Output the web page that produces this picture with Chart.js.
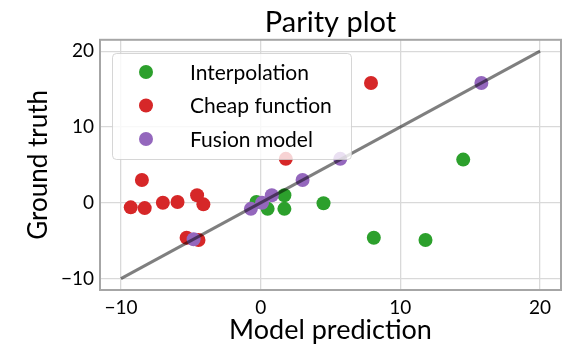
<!DOCTYPE html>
<html>
<head>
<meta charset="utf-8">
<script src="https://cdn.jsdelivr.net/npm/chart.js@4.4.1/dist/chart.umd.min.js"></script>
<style>
  body { margin: 0; background: #fff; }
</style>
</head>
<body>
<canvas id="myChart" width="577" height="346"></canvas>
<script>
// values
const interpX = [-0.3, 0.5, 1.7, 1.7, 4.5, 8.1, 11.8, 14.5];
const interpY = [0.1, -0.8, 1.0, -0.8, -0.05, -4.6, -4.9, 5.7];

const cheapX = [-9.3, -8.5, -8.3, -7.0, -5.95, -5.3, -4.55, -4.45, -4.1, 1.8, 7.9];
const cheapY = [-0.6, 3.0, -0.7, 0.0, 0.1, -4.6, 1.0, -4.9, -0.2, 5.8, 15.8];

const fusionX = [-4.8, -0.7, 0.1, 0.8, 3.0, 5.7, 15.8];
const fusionY = [-4.8, -0.8, 0.0, 1.0, 3.0, 5.8, 15.8];

const parityX = [-10, 20];
const parityY = [-10, 20];

const tickVals = [-10, 0, 10, 20];
const seriesNames = ['Interpolation', 'Cheap function', 'Fusion model'];
const seriesColors = ['#2ca02c', '#d62728', '#9467bd'];

function toPoints(xs, ys) {
    return xs.map(function(x, i) { return {x: x, y: ys[i]}; });
}

const FONT = 'Lato, "DejaVu Sans", sans-serif';

// legend inside the axes, drawn over the points like matplotlib does
const innerLegend = {
    id: 'innerLegend',
    afterDatasetsDraw(chart) {
        const ctx = chart.ctx;
        const bx = 112, by = 53, bw = 239, bh = 106;
        ctx.save();
        ctx.beginPath();
        ctx.roundRect(bx + 0.5, by + 0.5, bw, bh, 4);
        ctx.fillStyle = 'rgba(255,255,255,0.8)';
        ctx.fill();
        ctx.strokeStyle = 'rgba(204,204,204,0.8)';
        ctx.lineWidth = 1;
        ctx.stroke();
        ctx.font = '21px ' + FONT;
        ctx.textBaseline = 'middle';
        ctx.textAlign = 'left';
        seriesNames.forEach(function(name, i) {
            const cy = 72 + i * 33.5;
            ctx.beginPath();
            ctx.arc(146, cy, 7, 0, Math.PI * 2);
            ctx.fillStyle = seriesColors[i];
            ctx.fill();
            ctx.fillStyle = '#000';
            ctx.fillText(name, 190, cy + 1);
        });
        ctx.restore();
    }
};

// box round the plot area
const frame = {
    id: 'frame',
    afterDraw(chart) {
        const a = chart.chartArea;
        const ctx = chart.ctx;
        ctx.save();
        ctx.strokeStyle = '#a6a6a6';
        ctx.lineWidth = 2;
        ctx.strokeRect(a.left, a.top, a.right - a.left, a.bottom - a.top);
        ctx.restore();
    }
};

function fixTicks(axis) {
    axis.ticks = tickVals.map(function(v) { return {value: v}; });
}

function minusSign(value) {
    return String(value).replace('-', '\u2212');
}

const ctx = document.getElementById('myChart').getContext('2d');
const myChart = new Chart(ctx, {
    type: 'scatter',
    data: {
        datasets: [
            {
                label: seriesNames[0],
                data: toPoints(interpX, interpY),
                backgroundColor: seriesColors[0],
                borderWidth: 0,
                pointRadius: 7,
                order: 4
            },
            {
                label: seriesNames[1],
                data: toPoints(cheapX, cheapY),
                backgroundColor: seriesColors[1],
                borderWidth: 0,
                pointRadius: 7,
                order: 3
            },
            {
                label: seriesNames[2],
                data: toPoints(fusionX, fusionY),
                backgroundColor: seriesColors[2],
                borderWidth: 0,
                pointRadius: 7,
                order: 2
            },
            {
                type: 'line',
                label: 'parity',
                data: toPoints(parityX, parityY),
                borderColor: 'rgba(0,0,0,0.5)',
                borderWidth: 3,
                pointRadius: 0,
                fill: false,
                order: 1
            }
        ]
    },
    options: {
        responsive: false,
        animation: false,
        devicePixelRatio: 1,
        layout: {
            padding: {left: 0, right: 16, top: 0, bottom: 0}
        },
        plugins: {
            legend: { display: false },
            tooltip: { enabled: false },
            title: {
                display: true,
                fullSize: false,
                text: 'Parity plot',
                color: '#000',
                font: { family: FONT, size: 29, weight: 'normal' },
                padding: { top: 5, bottom: 0 }
            }
        },
        scales: {
            x: {
                type: 'linear',
                min: -11.5,
                max: 21.5,
                afterBuildTicks: fixTicks,
                afterFit: function(axis) { axis.height = 56; },
                grid: { color: '#d9d9d9', lineWidth: 1.3, drawTicks: false },
                border: { display: false },
                ticks: {
                    color: '#000',
                    padding: 6,
                    font: { family: FONT, size: 19 },
                    callback: minusSign
                },
                title: {
                    display: true,
                    text: 'Model prediction',
                    color: '#000',
                    font: { family: FONT, size: 27 },
                    padding: { top: 0, bottom: 0 }
                }
            },
            y: {
                type: 'linear',
                min: -11.5,
                max: 21.5,
                afterBuildTicks: fixTicks,
                afterFit: function(axis) { axis.width = 100; },
                grid: { color: '#d9d9d9', lineWidth: 1.3, drawTicks: false },
                border: { display: false },
                ticks: {
                    color: '#000',
                    padding: 6,
                    font: { family: FONT, size: 19 },
                    callback: minusSign
                },
                title: {
                    display: true,
                    text: 'Ground truth',
                    color: '#000',
                    font: { family: FONT, size: 26 },
                    padding: { top: 23, bottom: 0 }
                }
            }
        }
    },
    plugins: [innerLegend, frame]
});
</script>
</body>
</html>
